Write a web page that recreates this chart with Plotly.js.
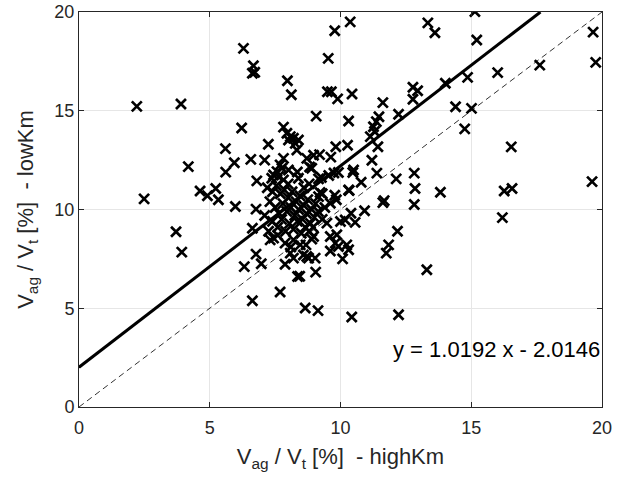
<!DOCTYPE html>
<html>
<head>
<meta charset="utf-8">
<script src="https://cdn.plot.ly/plotly-3.0.1.min.js"></script>
<style>html,body{margin:0;padding:0;background:#fff;}#chart{width:623px;height:478px;}</style>
</head>
<body>
<div id="chart"></div>
<script>
// Scatter data: Vag/Vt [%] highKm (x) vs lowKm (y)
const highKm = [
  2.21,3.90,4.18,2.49,3.71,3.93,6.29,6.67,6.63,6.72,
  7.97,8.12,9.07,6.22,5.60,5.94,5.61,6.57,7.10,7.24,
  7.82,4.63,4.91,5.23,5.33,5.98,6.77,6.80,6.63,6.77,
  6.32,6.97,6.63,7.69,7.88,8.36,8.44,8.65,9.14,9.05,
  10.43,12.22,13.30,15.14,15.21,10.37,9.78,13.34,13.61,19.66,
  19.76,17.62,16.01,14.86,14.01,9.53,9.50,9.65,9.89,10.44,
  12.77,12.95,12.77,11.62,12.22,14.40,15.01,14.75,16.53,19.62,
  16.26,16.56,16.19,13.82,12.82,12.85,12.82,12.13,11.62,11.67,
  12.18,11.84,11.75,10.92,10.56,10.40,10.79,10.47,10.33,11.20,
  11.43,11.14,11.26,11.37,11.47,11.30,10.27,9.82,10.31,8.97,
  9.20,9.63,8.90,8.82,9.92,9.75,9.27,9.55,9.84,9.78,
  9.22,9.16,9.61,10.31,10.50,11.39,9.48,10.00,10.18,9.61,
  9.86,9.80,9.61,9.92,10.24,10.31,10.08,8.97,8.90,8.68,
  8.78,9.03,8.71,7.31,7.44,7.88,8.20,8.46,8.58,8.20,
  8.08,7.95,8.08,8.20,8.39,8.01,8.27,8.33,7.82,7.69,
  7.76,7.57,7.44,7.37,8.01,8.71,7.63,7.82,8.39,9.16,
  7.20,7.40,7.55,7.70,7.85,8.00,8.15,8.30,8.45,8.60,
  8.75,8.90,9.05,7.30,7.50,7.65,7.80,7.95,8.10,8.25,
  8.40,8.55,8.70,8.85,9.00,9.15,7.40,7.60,7.75,7.90,
  8.05,8.20,8.35,8.50,8.65,8.80,9.30,9.40,7.10,8.00,
  8.60,9.30,7.25,8.35,8.80,7.60,8.10,8.95
];
const lowKm = [
  15.22,15.34,12.17,10.54,8.87,7.84,18.16,17.28,16.90,16.95,
  16.52,15.81,14.73,14.13,13.08,12.37,11.89,12.54,12.50,13.30,
  14.17,10.94,10.70,11.06,10.49,10.15,10.02,11.45,9.05,7.74,
  7.11,7.25,5.38,5.82,7.23,6.61,6.62,5.01,4.88,6.83,
  4.56,4.67,6.95,20.02,18.58,19.50,19.05,19.45,18.95,18.98,
  17.45,17.31,16.93,16.69,16.39,17.65,15.96,15.96,15.60,15.85,
  16.19,16.01,15.58,15.41,14.82,15.20,15.12,14.08,13.17,11.41,
  10.94,11.06,9.59,10.87,11.84,11.06,10.25,11.55,10.35,10.45,
  8.90,8.21,7.79,9.94,9.35,9.81,11.38,11.87,10.96,12.49,
  13.18,13.69,14.19,14.45,14.70,13.95,13.25,13.18,14.48,12.75,
  12.78,12.65,12.09,12.15,11.87,11.85,11.62,11.72,10.49,10.72,
  10.86,10.65,10.32,10.99,12.00,11.84,9.31,9.39,9.47,8.63,
  8.72,8.30,7.90,8.13,8.21,7.96,7.50,8.63,8.50,8.21,
  7.54,7.54,7.62,8.46,8.55,8.30,8.46,8.21,7.70,7.54,
  7.79,13.86,13.69,13.61,13.52,13.52,13.35,13.01,12.59,12.26,
  12.09,11.92,11.75,11.58,12.00,12.59,11.67,11.50,11.58,11.55,
  11.10,10.90,11.20,10.80,11.00,10.60,10.90,10.40,10.70,10.20,
  10.50,10.00,10.30,10.40,10.10,9.80,10.30,9.90,10.10,9.70,
  10.00,9.50,9.80,9.30,9.60,9.90,9.40,9.10,9.50,8.90,
  9.30,9.00,9.40,8.80,9.10,8.90,9.50,10.10,9.70,11.30,
  11.10,10.80,8.90,11.90,11.30,8.70,8.10,9.10
];
// Linear fit shown on chart
const fitSlope = 1.0192;
const fitIntercept = 2.0146;
const fitLabel = "y = 1.0192 x - 2.0146";
const fitX = [0, (20 - fitIntercept) / fitSlope];
const fitY = fitX.map(v => fitSlope * v + fitIntercept);
const identity = [0, 20];
const tickVals = [0, 5, 10, 15, 20];

const fontFam = "Liberation Sans, Arial, Helvetica, sans-serif";
const axisColor = "#262626";

const traces = [
  {x: identity, y: identity, mode: "lines", type: "scatter",
   line: {color: "#333333", width: 1, dash: "6px,4px"}, hoverinfo: "skip"},
  {x: highKm, y: lowKm, mode: "markers", type: "scatter",
   marker: {symbol: "x-thin", size: 10, color: "#000", line: {color: "#000", width: 2.7}}},
  {x: fitX, y: fitY, mode: "lines", type: "scatter",
   line: {color: "#000", width: 3}, hoverinfo: "skip"}
];

const axisCommon = {
  range: [0, 20], tickvals: tickVals, ticktext: tickVals.map(String),
  showgrid: true, gridcolor: "#e6e6e6", gridwidth: 1,
  zeroline: false, showline: true, linecolor: axisColor, linewidth: 1,
  mirror: "ticks", ticks: "inside", ticklen: 5, tickcolor: axisColor,
  tickfont: {family: fontFam, size: 18, color: axisColor}, fixedrange: true
};

const layout = {
  width: 623, height: 478,
  margin: {l: 79, r: 21, t: 12, b: 71},
  paper_bgcolor: "#fff", plot_bgcolor: "#fff",
  showlegend: false,
  xaxis: Object.assign({}, axisCommon, {
    ticklabelstandoff: 4,
    title: {text: "V<sub>ag</sub> / V<sub>t</sub> [%]  - highKm", font: {family: fontFam, size: 22, color: axisColor}, standoff: 12}
  }),
  yaxis: Object.assign({}, axisCommon, {
    title: {text: "V<sub>ag</sub> / V<sub>t</sub> [%]  - lowKm", font: {family: fontFam, size: 22, color: axisColor}, standoff: 14}
  }),
  annotations: [{
    x: 20, y: 2.9, xref: "x", yref: "y", xanchor: "right", yanchor: "middle",
    text: fitLabel, showarrow: false,
    font: {family: fontFam, size: 22, color: "#000"}
  }]
};

Plotly.newPlot("chart", traces, layout, {displayModeBar: false, staticPlot: true});
</script>
</body>
</html>
